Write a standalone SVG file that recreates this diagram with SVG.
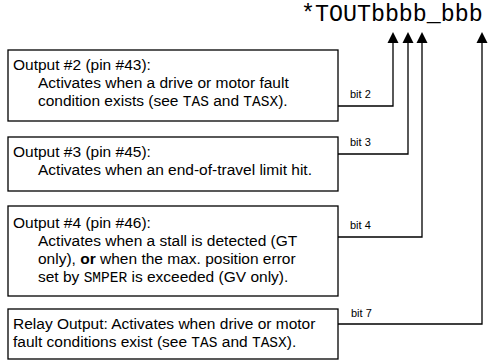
<svg xmlns="http://www.w3.org/2000/svg" width="488" height="364" viewBox="0 0 488 364">
<defs>
<style>
.box{fill:#fff;stroke:#000;stroke-width:1.3}
.t{font-family:"Liberation Sans",Arial,sans-serif;font-size:15.5px;fill:#000}
.m{font-family:"Liberation Mono","Courier New",monospace;font-size:14.5px}
.b{font-weight:bold}
.lbl{font-family:"Liberation Sans",Arial,sans-serif;font-size:11px;fill:#000}
.title{font-family:"Liberation Mono","Courier New",monospace;font-size:23.3px;fill:#000}
.c{fill:none;stroke:#000;stroke-width:1.3}
</style>
</defs>
<rect width="488" height="364" fill="#fff"/>
<text class="title" x="301" y="20.5">*TOUTbbbb_bbb</text>
<g id="connectors">
<path class="c" d="M338,106 H393 V43"/>
<path d="M387.5,43 L393,32 L398.5,43 Z"/>
<path class="c" d="M338,154 H408 V43"/>
<path d="M402.5,43 L408,32 L413.5,43 Z"/>
<path class="c" d="M338,237 H422 V43"/>
<path d="M416.5,43 L422,32 L427.5,43 Z"/>
<path class="c" d="M338,324 H482 V43"/>
<path d="M476.5,43 L482,32 L487.5,43 Z"/>
<text class="lbl" x="350" y="98">bit 2</text>
<text class="lbl" x="350" y="146">bit 3</text>
<text class="lbl" x="350" y="229">bit 4</text>
<text class="lbl" x="351" y="317">bit 7</text>
</g>
<g id="out2">
<rect class="box" x="8" y="50" width="330" height="71"/>
<text class="t" x="13" y="70">Output #2 (pin #43):</text>
<text class="t" x="38" y="88">Activates when a drive or motor fault</text>
<text class="t" x="38" y="106">condition exists (see <tspan class="m">TAS</tspan> and <tspan class="m">TASX</tspan>).</text>
</g>
<g id="out3">
<rect class="box" x="8" y="137" width="330" height="54"/>
<text class="t" x="13" y="157">Output #3 (pin #45):</text>
<text class="t" x="38" y="175">Activates when an end-of-travel limit hit.</text>
</g>
<g id="out4">
<rect class="box" x="8" y="206" width="330" height="90"/>
<text class="t" x="13" y="228">Output #4 (pin #46):</text>
<text class="t" x="38" y="246">Activates when a stall is detected (GT</text>
<text class="t" x="38" y="264">only), <tspan class="b">or</tspan> when the max. position error</text>
<text class="t" x="38" y="282">set by <tspan class="m">SMPER</tspan> is exceeded (GV only).</text>
</g>
<g id="relay">
<rect class="box" x="8" y="309" width="330" height="50"/>
<text class="t" x="13" y="329">Relay Output: Activates when drive or motor</text>
<text class="t" x="13" y="347">fault conditions exist (see <tspan class="m">TAS</tspan> and <tspan class="m">TASX</tspan>).</text>
</g>
</svg>
